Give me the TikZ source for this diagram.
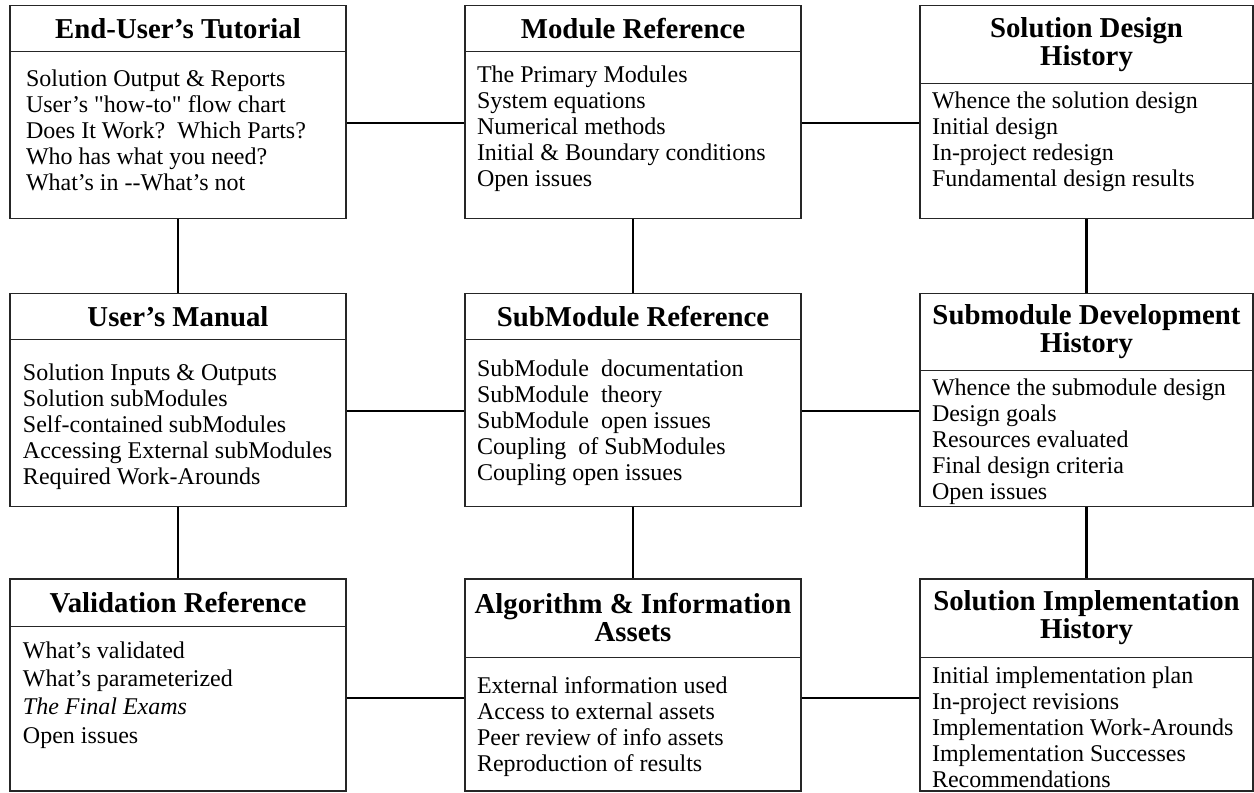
\documentclass[tikz,border=0pt]{standalone}
\usepackage{xcolor}
\usepackage{fontspec}
\setmainfont{Liberation Serif}
\usepackage{tikz}
\usetikzlibrary{positioning}
\newcommand{\straightquote}{\XeTeXglyph\XeTeXcharglyph"22\relax}

\begin{document}
\begin{tikzpicture}[x=0.5pt, y=-0.5pt]
\tikzstyle{every node} = [font = \fontsize{12}{13}\selectfont]
\tikzstyle{box} = [rectangle, draw = black!85, line width = 0.6pt, minimum width = 168pt, inner sep = 0pt]
\tikzstyle{head} = [minimum width = 168pt, inner sep = 0pt, align = center, font = \fontsize{14.4}{14}\selectfont\bfseries]
\tikzstyle{list} = [inner sep = 0pt, align = left]
\tikzstyle{rule} = [draw = black!85, line width = 0.6pt]
\tikzstyle{link} = [draw = black, line width = 1.2pt]
	\useasboundingbox (0,0) rectangle (1254,793);
	% top row
	\node [box, minimum height = 106.5pt] (tut) at (178,112) {};
	\node [head, minimum height = 23pt, below = 0pt of tut.north] (tutHead) {End-User's Tutorial};
	\draw [rule] (tutHead.south west) -- (tutHead.south east);
	\node [list, below right = 9pt and 8pt of tutHead.south west] (tutList) {Solution Output \& Reports\\
		User's \straightquote how-to\straightquote\ flow chart\\
		Does It Work?\ \ Which Parts?\\
		Who has what you need?\\
		What's in -{}-What's not};
	\node [box, minimum height = 106.5pt] (mod) at (633,112) {};
	\node [head, minimum height = 23pt, below = 0pt of mod.north] (modHead) {Module Reference};
	\draw [rule] (modHead.south west) -- (modHead.south east);
	\node [list, below right = 6.75pt and 6pt of modHead.south west] (modList) {The Primary Modules\\
		System equations\\
		Numerical methods\\
		Initial \& Boundary conditions\\
		Open issues};
	\node [box, minimum width = 166.5pt, minimum height = 106.5pt] (hist) at (1086.5,112) {};
	\node [head, minimum width = 166.5pt, minimum height = 39pt, below = 0pt of hist.north] (histHead) {Solution Design\\History};
	\draw [rule] (histHead.south west) -- (histHead.south east);
	\node [list, below right = 3.75pt and 6pt of histHead.south west] (histList) {Whence the solution design\\
		Initial design\\
		In-project redesign\\
		Fundamental design results};
	% middle row
	\node [box, minimum height = 106.5pt] (man) at (178,400) {};
	\node [head, minimum height = 23pt, below = 0pt of man.north] (manHead) {User's Manual};
	\draw [rule] (manHead.south west) -- (manHead.south east);
	\node [list, below right = 11.75pt and 6.5pt of manHead.south west] (manList) {Solution Inputs \& Outputs\\
		Solution subModules\\
		Self-contained subModules\\
		Accessing External subModules\\
		Required Work-Arounds};
	\node [box, minimum height = 106.5pt] (sub) at (633,400) {};
	\node [head, minimum height = 23pt, below = 0pt of sub.north] (subHead) {SubModule Reference};
	\draw [rule] (subHead.south west) -- (subHead.south east);
	\node [list, below right = 9.75pt and 6pt of subHead.south west] (subList) {SubModule\ \ documentation\\
		SubModule\ \ theory\\
		SubModule\ \ open issues\\
		Coupling\ \ of SubModules\\
		Coupling open issues};
	\node [box, minimum width = 166.5pt, minimum height = 106.5pt] (dev) at (1086.5,400) {};
	\node [head, minimum width = 166.5pt, minimum height = 38.5pt, below = 0pt of dev.north] (devHead) {Submodule Development\\History};
	\draw [rule] (devHead.south west) -- (devHead.south east);
	\node [list, below right = 3.75pt and 6pt of devHead.south west] (devList) {Whence the submodule design\\
		Design goals\\
		Resources evaluated\\
		Final design criteria\\
		Open issues};
	% bottom row
	\node [box, minimum height = 106pt] (val) at (178,685) {};
	\node [head, minimum height = 23.5pt, below = 0pt of val.north] (valHead) {Validation Reference};
	\draw [rule] (valHead.south west) -- (valHead.south east);
	\node [list, below right = 7.75pt and 6.5pt of valHead.south west] (valList) {What's validated\\[1pt]
		What's parameterized\\[1pt]
		\textit{The Final Exams}\\[1.5pt]
		Open issues};
	\node [box, minimum height = 106pt] (alg) at (633,685) {};
	\node [head, minimum height = 39pt, below = 0pt of alg.north] (algHead) {Algorithm \& Information\\Assets};
	\draw [rule] (algHead.south west) -- (algHead.south east);
	\node [list, below right = 9.25pt and 6pt of algHead.south west] (algList) {External information used\\
		Access to external assets\\
		Peer review of info assets\\
		Reproduction of results};
	\node [box, minimum width = 166.5pt, minimum height = 106pt] (impl) at (1086.5,685) {};
	\node [head, minimum width = 166.5pt, minimum height = 39pt, below = 0pt of impl.north] (implHead) {Solution Implementation\\History};
	\draw [rule] (implHead.south west) -- (implHead.south east);
	\node [list, below right = 4.75pt and 6pt of implHead.south west] (implList) {Initial implementation plan\\
		In-project revisions\\
		Implementation Work-Arounds\\
		Implementation Successes\\
		Recommendations};
	% connectors
	\draw [link] (tut) -- (man);
	\draw [link] (man) -- (val);
	\draw [link] (mod) -- (sub);
	\draw [link] (sub) -- (alg);
	\draw [link] (hist) -- (dev);
	\draw [link] (dev) -- (impl);
	\draw [link] ([yshift = -5.5pt]tut.east) -- ([yshift = -5.5pt]mod.west);
	\draw [link] ([yshift = -5.5pt]mod.east) -- ([yshift = -5.5pt]hist.west);
	\draw [link] ([yshift = -5.5pt]man.east) -- ([yshift = -5.5pt]sub.west);
	\draw [link] ([yshift = -5.5pt]sub.east) -- ([yshift = -5.5pt]dev.west);
	\draw [link] ([yshift = -6.5pt]val.east) -- ([yshift = -6.5pt]alg.west);
	\draw [link] ([yshift = -6.5pt]alg.east) -- ([yshift = -6.5pt]impl.west);
\end{tikzpicture}
\end{document}
